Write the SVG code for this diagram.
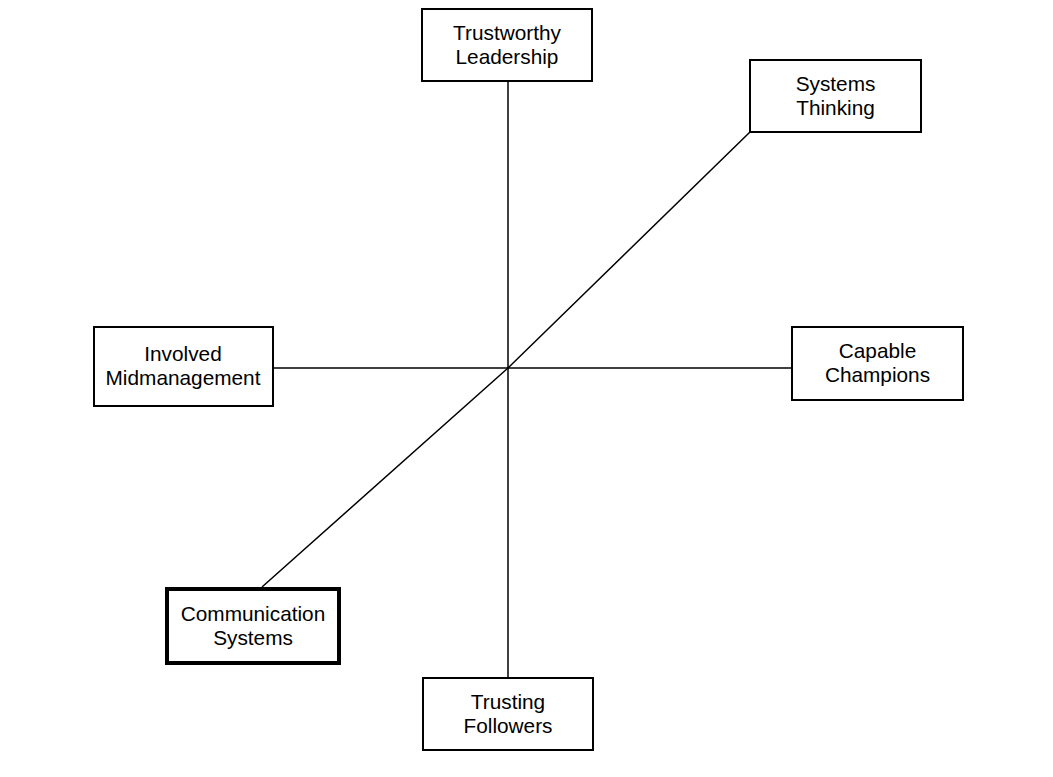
<svg xmlns="http://www.w3.org/2000/svg" width="1053" height="777" viewBox="0 0 1053 777">
<style>
.box{fill:#fff;stroke:#000;stroke-width:2}
.bold{stroke-width:4}
.lbl{font-family:"Liberation Sans",Arial,sans-serif;font-size:20.8px;fill:#000;text-anchor:middle}
.ln{fill:none;stroke:#000;stroke-width:1.5}
</style>
<rect width="1053" height="777" fill="#fff"/>
<g id="connectors">
<line class="ln" x1="508" y1="81" x2="508" y2="678"/>
<line class="ln" x1="273" y1="368" x2="792" y2="368"/>
<polyline class="ln" points="750,132 508,368 262,587"/>
</g>
<g id="trustworthy-leadership">
<rect class="box" x="422" y="9" width="170" height="72"/>
<text class="lbl" x="507" y="40">Trustworthy</text>
<text class="lbl" x="507" y="64">Leadership</text>
</g>
<g id="systems-thinking">
<rect class="box" x="750" y="60" width="171" height="72"/>
<text class="lbl" x="835.5" y="91">Systems</text>
<text class="lbl" x="835.5" y="115">Thinking</text>
</g>
<g id="involved-midmanagement">
<rect class="box" x="94" y="327" width="179" height="79"/>
<text class="lbl" x="183" y="361">Involved</text>
<text class="lbl" x="183" y="385">Midmanagement</text>
</g>
<g id="capable-champions">
<rect class="box" x="792" y="327" width="171" height="73"/>
<text class="lbl" x="877.5" y="358">Capable</text>
<text class="lbl" x="877.5" y="382">Champions</text>
</g>
<g id="communication-systems">
<rect class="box bold" x="167" y="589" width="172" height="74"/>
<text class="lbl" x="253" y="621">Communication</text>
<text class="lbl" x="253" y="645">Systems</text>
</g>
<g id="trusting-followers">
<rect class="box" x="423" y="678" width="170" height="72"/>
<text class="lbl" x="508" y="709">Trusting</text>
<text class="lbl" x="508" y="733">Followers</text>
</g>
</svg>
